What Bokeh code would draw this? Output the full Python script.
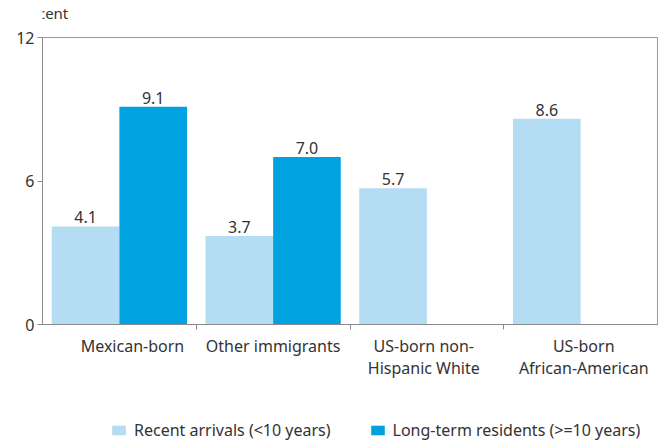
from bokeh.plotting import figure
from bokeh.layouts import column
from bokeh.models import ColumnDataSource, FixedTicker, Range1d, Legend, LegendItem, LabelSet, Label
from bokeh.core.properties import value
from bokeh.transform import dodge
from bokeh.embed import file_html
from bokeh.resources import INLINE

categories = ["Mexican-born", "Other immigrants", "US-born non-\nHispanic White", "US-born\nAfrican-American"]
recent = [4.1, 3.7, 5.7, 8.6]
longterm = [9.1, 7.0, None, None]
series_names = ["Recent arrivals (<10 years)", "Long-term residents (>=10 years)"]
y_ticks = [0, 6, 12]
y_title = "Percent"

LIGHT = "#b4dcf3"
DARK = "#00a3e0"
TEXT = "#333333"
AXIS = "#8a8a8a"
FONT = "Noto Sans"
label_shift = [0.085, 0.0, -0.02, 0.02]   # small layout nudges of category labels

pos = [i + 0.5 for i in range(len(categories))]
src_r = ColumnDataSource(dict(x=pos, y=recent, t=[f"{v:.1f}" for v in recent]))
lx = [pos[i] for i, v in enumerate(longterm) if v is not None]
ly = [v for v in longterm if v is not None]
src_l = ColumnDataSource(dict(x=lx, y=ly, t=[f"{v:.1f}" for v in ly]))

# top strip with the unit title
top = figure(width=659, height=25, x_range=Range1d(0, 659), y_range=Range1d(0, 25),
             output_backend="svg", toolbar_location=None, x_axis_type=None, y_axis_type=None,
             min_border=0, min_border_left=0, min_border_right=0, min_border_top=0,
             min_border_bottom=0)
top.outline_line_color = None
top.grid.visible = False
top.add_layout(Label(x=-30, y=12.5, text=y_title, text_font=FONT, text_font_size="15px",
                     text_color=TEXT, text_baseline="middle"))

p = figure(width=659, height=393, x_range=Range1d(0, len(categories)), y_range=Range1d(0, 12),
           output_backend="svg", toolbar_location=None,
           min_border_left=42, min_border_right=2, min_border_top=12, min_border_bottom=94)
p.outline_line_color = "#999999"
p.grid.visible = False

r1 = p.vbar(x=dodge("x", -0.22), top="y", width=0.44, source=src_r, fill_color=LIGHT, line_color=None)
r2 = p.vbar(x=dodge("x", 0.22), top="y", width=0.44, source=src_l, fill_color=DARK, line_color=None)

for src, d in ((src_r, -0.22), (src_l, 0.22)):
    p.add_layout(LabelSet(x=dodge("x", d), y="y", text="t", source=src, y_offset=3,
                          text_align="center", text_baseline="bottom",
                          text_font=value(FONT), text_font_size=value("16px"), text_color=TEXT))

tick_pos = [x + s for x, s in zip(pos, label_shift)]
xa = p.xaxis[0]
xa.ticker = FixedTicker(ticks=tick_pos, minor_ticks=[1, 2, 3])
xa.major_label_overrides = {t: c for t, c in zip(tick_pos, categories)}
xa.major_tick_out = 0
xa.major_tick_in = 0
xa.minor_tick_out = 5
xa.minor_tick_in = 0
xa.minor_tick_line_color = AXIS
xa.axis_line_color = AXIS
xa.major_label_text_font = FONT
xa.major_label_text_font_size = "16px"
xa.major_label_text_color = TEXT
xa.major_label_text_line_height = 1.0
xa.major_label_standoff = 5

ya = p.yaxis[0]
ya.ticker = FixedTicker(ticks=y_ticks, minor_ticks=[])
ya.major_tick_out = 5
ya.major_tick_in = 0
ya.major_tick_line_color = AXIS
ya.axis_line_color = AXIS
ya.major_label_text_font = FONT
ya.major_label_text_font_size = "16px"
ya.major_label_text_color = TEXT
ya.major_label_standoff = 3

# legend strip (its bars sit far outside its visible ranges; only the legend shows)
lf = figure(width=659, height=24, x_range=Range1d(100, 101), y_range=Range1d(100, 101),
            output_backend="svg", toolbar_location=None, x_axis_type=None, y_axis_type=None,
            min_border=0)
lf.outline_line_color = None
lf.grid.visible = False
l1 = lf.vbar(x="x", top="y", width=0.44, source=src_r, fill_color=LIGHT, line_color=None)
l2 = lf.vbar(x="x", top="y", width=0.44, source=src_l, fill_color=DARK, line_color=None)
legend = Legend(items=[LegendItem(label=series_names[0], renderers=[l1]),
                       LegendItem(label=series_names[1], renderers=[l2])],
                orientation="horizontal", location=(68, 1), padding=0, margin=0,
                border_line_color=None, background_fill_alpha=0,
                glyph_width=17, glyph_height=12, label_standoff=7, spacing=38,
                label_text_font=FONT, label_text_font_size="16px", label_text_color=TEXT,
                label_height=20)
lf.add_layout(legend, "center")

layout = column(top, p, lf, spacing=0)
open("out.html", "w").write(file_html(layout, INLINE))
